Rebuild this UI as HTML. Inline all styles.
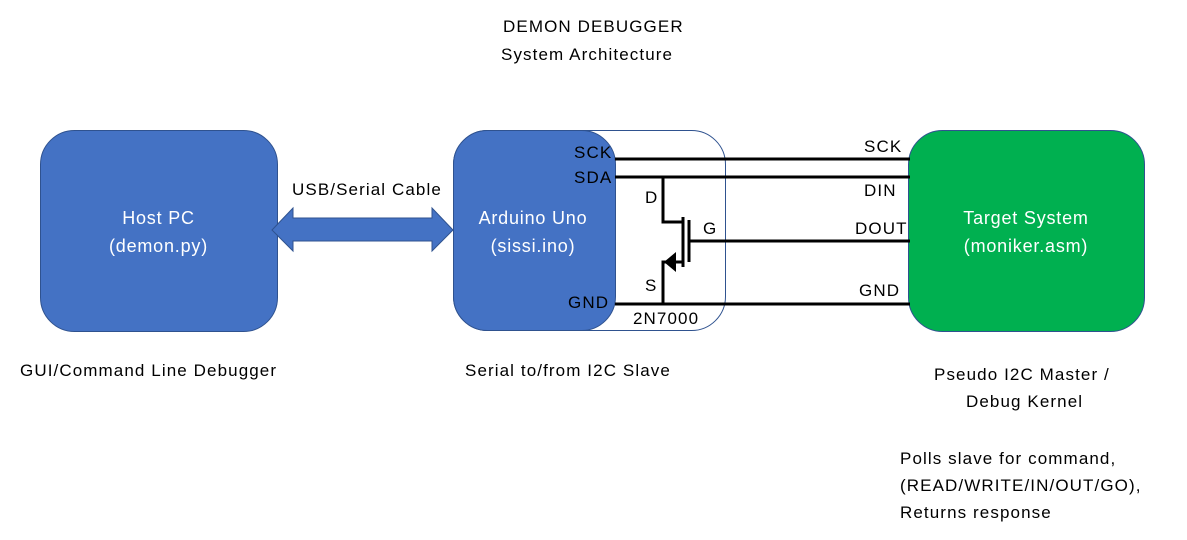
<!DOCTYPE html>
<html><head><style>
body{margin:0;width:1187px;height:540px;background:#fff;overflow:hidden;position:relative;font-family:"Liberation Sans",sans-serif}
.t{position:absolute;font-size:17px;letter-spacing:1.1px;color:#000;white-space:nowrap}
.w{position:absolute;font-size:18px;letter-spacing:0.8px;color:#fff;text-align:center;white-space:nowrap}
</style></head><body>
<svg width="1187" height="540" style="position:absolute;left:0;top:0">
<rect x="40.5" y="130.5" width="237" height="201" rx="34" fill="#4472c4" stroke="#2f528f"/>
<rect x="453.5" y="130.5" width="272" height="200" rx="34" fill="none" stroke="#2f528f"/>
<rect x="453.5" y="130.5" width="162" height="200" rx="34" fill="#4472c4" stroke="#2f528f"/>
<rect x="908.5" y="130.5" width="236" height="201" rx="34" fill="#00b050" stroke="#2f528f"/>
<polygon points="272,230 293,208 293,218 432,218 432,208 453,230 432,251 432,241 293,241 293,251" fill="#4472c4" stroke="#2f528f"/>
<g stroke="#000" stroke-width="3" fill="none">
<line x1="615" y1="159" x2="910" y2="159"/>
<line x1="615" y1="177" x2="910" y2="177"/>
<line x1="688" y1="241" x2="910" y2="241"/>
<line x1="615" y1="304" x2="910" y2="304"/>
<polyline points="663,177 663,222 682,222"/>
<polyline points="663,304 663,262 682,262"/>
<line x1="683" y1="217" x2="683" y2="267"/>
<line x1="689" y1="220" x2="689" y2="262"/>
</g>
<polygon points="664,262 676,252 676,272" fill="#000"/>
</svg>
<div class="t" style="left:503px;top:17px">DEMON DEBUGGER</div>
<div class="t" style="left:501px;top:45px">System Architecture</div>
<div class="t" style="left:292px;top:180px">USB/Serial Cable</div>
<div class="w" style="left:40px;width:237px;top:204px;line-height:28px">Host PC<br>(demon.py)</div>
<div class="w" style="left:453px;width:160px;top:204px;line-height:28px">Arduino Uno<br>(sissi.ino)</div>
<div class="w" style="left:908px;width:236px;top:204px;line-height:28px">Target System<br>(moniker.asm)</div>
<div class="t" style="left:574px;top:143px">SCK</div>
<div class="t" style="left:574px;top:168px">SDA</div>
<div class="t" style="left:568px;top:293px">GND</div>
<div class="t" style="left:645px;top:188px">D</div>
<div class="t" style="left:645px;top:276px">S</div>
<div class="t" style="left:703px;top:219px">G</div>
<div class="t" style="left:633px;top:309px">2N7000</div>
<div class="t" style="left:864px;top:137px">SCK</div>
<div class="t" style="left:864px;top:181px">DIN</div>
<div class="t" style="left:855px;top:219px">DOUT</div>
<div class="t" style="left:859px;top:281px">GND</div>
<div class="t" style="left:20px;top:361px">GUI/Command Line Debugger</div>
<div class="t" style="left:465px;top:361px">Serial to/from I2C Slave</div>
<div class="t" style="left:934px;top:365px">Pseudo I2C Master /</div>
<div class="t" style="left:966px;top:392px">Debug Kernel</div>
<div class="t" style="left:900px;top:445px;line-height:27px">Polls slave for command,<br>(READ/WRITE/IN/OUT/GO),<br>Returns response</div>
</body></html>
